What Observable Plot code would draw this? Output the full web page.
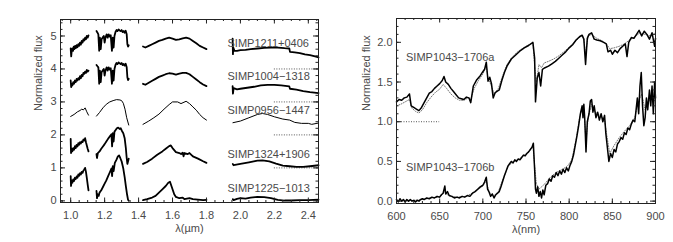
<!DOCTYPE html>
<html>
<head>
<meta charset="utf-8">
<script src="https://cdn.jsdelivr.net/npm/d3@7"></script>
<script src="https://cdn.jsdelivr.net/npm/@observablehq/plot@0.6"></script>
<style>
  html, body { margin: 0; padding: 0; background: #fff; }
  #wrap { display: flex; width: 673px; height: 242px; overflow: hidden; }
  #wrap svg { display: block; }
</style>
</head>
<body>
<div id="wrap"></div>
<script>
// ---------------- Left panel data (λ in µm, normalized flux + offset) ----------------
const leftNames = ["SIMP1211+0406", "SIMP1004−1318", "SIMP0956−1447", "SIMP1324+1906", "SIMP1225−1013"];
const leftLabelX = [1.924, 1.924, 1.924, 1.924, 1.924];
const leftLabelY = [4.77, 3.77, 2.74, 1.41, 0.37];
const zeroLevels = [1, 2, 3, 4];
const zeroLevelX = [2.2, 2.46];

const simp1211 = [
  [[1.000,4.62],[1.003,4.38],[1.006,4.55],[1.010,4.62],[1.014,4.55],[1.018,4.68],[1.022,4.60],[1.026,4.70],[1.030,4.63],[1.035,4.72],[1.040,4.66],[1.045,4.75],[1.050,4.70],[1.055,4.80],[1.060,4.74],[1.065,4.85],[1.070,4.80],[1.075,4.90],[1.080,4.86],[1.085,4.95],[1.090,4.90],[1.095,5.00],[1.100,4.95],[1.105,5.02]],
  [[1.152,5.15],[1.158,5.10],[1.163,5.05],[1.168,4.55],[1.172,4.95],[1.177,4.60],[1.182,4.90],[1.188,4.95],[1.195,5.00],[1.200,4.80],[1.205,4.95],[1.212,5.05],[1.218,4.95],[1.224,5.05],[1.230,4.98],[1.236,5.02],[1.243,4.55],[1.248,4.95],[1.253,4.65],[1.258,5.00],[1.264,5.12],[1.270,5.18],[1.276,5.15],[1.282,5.20],[1.288,5.17],[1.294,5.15],[1.300,5.18],[1.306,5.12],[1.312,5.15],[1.318,5.10],[1.324,5.16],[1.330,5.05],[1.334,4.75],[1.338,4.68],[1.342,4.72]],
  [[1.426,4.68],[1.440,4.65],[1.460,4.70],[1.480,4.75],[1.500,4.80],[1.520,4.85],[1.540,4.88],[1.560,4.92],[1.580,4.95],[1.600,4.92],[1.620,4.88],[1.640,4.90],[1.660,4.93],[1.680,4.95],[1.700,4.92],[1.720,4.85],[1.740,4.78],[1.760,4.70],[1.780,4.65],[1.800,4.60]],
  [[1.954,4.92],[1.956,4.45],[1.958,4.65],[1.965,4.55],[1.980,4.55],[2.000,4.57],[2.030,4.58],[2.060,4.60],[2.100,4.62],[2.140,4.64],[2.180,4.65],[2.220,4.65],[2.260,4.63],[2.288,4.62],[2.292,4.52],[2.320,4.50],[2.350,4.48],[2.380,4.44],[2.410,4.42],[2.440,4.38],[2.460,4.35]]
];
const simp1004 = [
  [[1.000,3.65],[1.003,3.45],[1.006,3.55],[1.010,3.50],[1.015,3.60],[1.020,3.55],[1.025,3.65],[1.030,3.60],[1.035,3.70],[1.040,3.65],[1.045,3.72],[1.050,3.68],[1.055,3.78],[1.060,3.72],[1.065,3.82],[1.070,3.78],[1.075,3.88],[1.080,3.85],[1.085,3.92],[1.090,3.88],[1.095,3.97],[1.100,3.92],[1.105,3.95]],
  [[1.152,4.12],[1.158,4.08],[1.163,4.05],[1.168,3.55],[1.172,3.95],[1.177,3.60],[1.182,3.90],[1.188,3.95],[1.195,4.00],[1.200,3.80],[1.205,3.95],[1.212,4.05],[1.218,3.95],[1.224,4.05],[1.230,3.98],[1.236,4.02],[1.243,3.55],[1.248,3.95],[1.253,3.65],[1.258,4.00],[1.264,4.12],[1.270,4.18],[1.276,4.15],[1.282,4.20],[1.288,4.17],[1.294,4.15],[1.300,4.18],[1.306,4.12],[1.312,4.15],[1.318,4.10],[1.324,4.16],[1.330,4.05],[1.334,3.75],[1.338,3.66],[1.342,3.70]],
  [[1.426,3.55],[1.440,3.52],[1.460,3.58],[1.480,3.64],[1.500,3.70],[1.520,3.76],[1.540,3.80],[1.560,3.84],[1.580,3.87],[1.600,3.86],[1.620,3.83],[1.640,3.86],[1.660,3.88],[1.680,3.88],[1.700,3.84],[1.720,3.76],[1.740,3.68],[1.760,3.60],[1.780,3.53],[1.800,3.48]],
  [[1.954,3.48],[1.956,3.25],[1.960,3.42],[1.980,3.38],[2.000,3.40],[2.040,3.43],[2.080,3.46],[2.120,3.50],[2.160,3.52],[2.200,3.52],[2.240,3.50],[2.288,3.47],[2.292,3.40],[2.330,3.37],[2.370,3.33],[2.410,3.30],[2.460,3.27]]
];
const simp0956 = [
  [[1.000,2.56],[1.020,2.62],[1.040,2.70],[1.055,2.74],[1.065,2.78],[1.075,2.76],[1.085,2.82],[1.095,2.70],[1.105,2.60]],
  [[1.152,2.57],[1.170,2.68],[1.190,2.82],[1.210,2.93],[1.230,3.00],[1.250,3.04],[1.270,3.07],[1.290,3.06],[1.300,3.04],[1.310,2.96],[1.320,2.78],[1.330,2.52],[1.342,2.30]],
  [[1.426,2.32],[1.460,2.42],[1.490,2.52],[1.520,2.63],[1.550,2.78],[1.580,2.92],[1.600,3.00],[1.630,3.00],[1.650,2.95],[1.680,3.02],[1.700,2.95],[1.720,2.85],[1.740,2.75],[1.760,2.62],[1.780,2.52],[1.800,2.45]],
  [[1.956,2.37],[2.000,2.42],[2.050,2.52],[2.100,2.62],[2.130,2.65],[2.160,2.62],[2.200,2.55],[2.250,2.48],[2.290,2.45],[2.320,2.38],[2.360,2.35],[2.400,2.35],[2.420,2.32],[2.460,2.36]]
];
const simp1324 = [
  [[1.000,1.88],[1.002,1.45],[1.006,1.58],[1.010,1.50],[1.015,1.60],[1.020,1.55],[1.025,1.66],[1.030,1.60],[1.035,1.70],[1.040,1.65],[1.045,1.75],[1.050,1.70],[1.055,1.78],[1.060,1.74],[1.065,1.80],[1.070,1.78],[1.075,1.86],[1.080,1.83],[1.085,1.90],[1.090,1.78],[1.095,1.68],[1.100,1.58],[1.105,1.50]],
  [[1.152,1.42],[1.155,1.30],[1.160,1.45],[1.170,1.50],[1.180,1.58],[1.190,1.65],[1.200,1.72],[1.210,1.80],[1.220,1.88],[1.230,1.95],[1.240,2.02],[1.244,1.65],[1.248,2.05],[1.253,1.80],[1.258,2.10],[1.265,2.15],[1.272,2.20],[1.280,2.22],[1.288,2.18],[1.295,2.20],[1.302,2.12],[1.310,2.05],[1.318,1.90],[1.325,1.60],[1.330,1.30],[1.334,1.12],[1.338,1.20],[1.342,1.28]],
  [[1.426,1.12],[1.450,1.18],[1.480,1.28],[1.510,1.40],[1.540,1.50],[1.560,1.58],[1.580,1.66],[1.590,1.68],[1.600,1.60],[1.620,1.48],[1.640,1.45],[1.650,1.42],[1.660,1.46],[1.665,1.35],[1.670,1.45],[1.690,1.42],[1.700,1.45],[1.720,1.35],[1.750,1.28],[1.780,1.20],[1.800,1.15]],
  [[1.955,1.12],[1.960,1.08],[2.000,1.12],[2.050,1.17],[2.100,1.22],[2.130,1.23],[2.170,1.20],[2.210,1.13],[2.250,1.07],[2.290,1.05],[2.330,1.03],[2.370,1.03],[2.410,1.05],[2.460,1.08]]
];
const simp1225 = [
  [[1.000,0.75],[1.002,0.45],[1.006,0.62],[1.010,0.55],[1.015,0.65],[1.020,0.60],[1.025,0.70],[1.030,0.66],[1.035,0.74],[1.040,0.70],[1.045,0.80],[1.050,0.76],[1.055,0.84],[1.060,0.80],[1.065,0.88],[1.070,0.85],[1.075,0.92],[1.080,0.95],[1.085,1.00],[1.090,0.88],[1.095,0.70],[1.100,0.50],[1.105,0.32]],
  [[1.152,0.30],[1.155,0.08],[1.160,0.20],[1.165,0.15],[1.170,0.25],[1.180,0.32],[1.190,0.42],[1.200,0.52],[1.210,0.62],[1.220,0.74],[1.230,0.86],[1.240,0.98],[1.244,0.75],[1.248,1.05],[1.253,0.90],[1.260,1.15],[1.270,1.25],[1.278,1.35],[1.285,1.38],[1.292,1.30],[1.300,1.20],[1.310,0.98],[1.318,0.72],[1.325,0.45],[1.332,0.20],[1.338,0.03],[1.342,0.00]],
  [[1.426,0.02],[1.450,0.05],[1.480,0.10],[1.500,0.15],[1.520,0.25],[1.540,0.35],[1.560,0.45],[1.575,0.55],[1.585,0.58],[1.600,0.35],[1.610,0.20],[1.620,0.12],[1.640,0.08],[1.660,0.10],[1.670,0.05],[1.700,0.08],[1.720,0.05],[1.750,0.04],[1.780,0.02],[1.800,0.03]],
  [[1.955,0.05],[1.960,0.02],[1.980,0.06],[2.000,0.08],[2.030,0.07],[2.060,0.10],[2.100,0.12],[2.140,0.11],[2.180,0.08],[2.220,0.03],[2.260,0.01],[2.300,0.01],[2.350,0.02],[2.400,0.02],[2.460,0.04]]
];
const leftSpectra = [simp1211, simp1004, simp0956, simp1324, simp1225];
const leftWidths = [1.8, 1.8, 1.0, 1.8, 1.8];

// ---------------- Right panel data (λ in nm) ----------------
const rightNames = ["SIMP1043−1706a", "SIMP1043−1706b"];
const rightLabelX = [611, 611];
const rightLabelY = [1.81, 0.42];
const rightRefLevel = [1.0];
const rightRefX = [600, 650];

const specA = [[600,1.25],[603,1.28],[606,1.27],[609,1.30],[612,1.31],[615,1.35],[617,1.20],[620,1.18],[623,1.16],[626,1.14],[629,1.18],[632,1.24],[635,1.30],[638,1.36],[641,1.38],[644,1.42],[647,1.45],[650,1.48],[653,1.52],[655,1.57],[657,1.50],[660,1.47],[663,1.42],[666,1.38],[669,1.34],[672,1.30],[675,1.29],[678,1.28],[681,1.31],[684,1.30],[686,1.24],[689,1.45],[693,1.53],[697,1.58],[700,1.63],[702,1.66],[704,1.75],[706,1.51],[708,1.56],[710,1.48],[712,1.30],[714,1.36],[716,1.38],[719,1.40],[722,1.52],[725,1.62],[728,1.70],[733,1.79],[739,1.85],[744,1.90],[748,1.93],[753,1.96],[758,2.00],[760,1.80],[761,1.25],[763,1.55],[765,1.62],[767,1.45],[769,1.66],[772,1.68],[776,1.70],[780,1.73],[784,1.76],[788,1.80],[792,1.84],[796,1.88],[800,1.93],[804,1.97],[808,2.03],[812,2.07],[815,2.09],[817,2.04],[819,1.72],[821,2.05],[823,2.10],[826,2.12],[829,2.04],[832,2.03],[836,2.02],[840,2.00],[843,1.98],[845,1.88],[848,1.90],[850,1.85],[853,1.90],[856,1.87],[859,1.92],[862,1.95],[865,1.98],[867,1.82],[869,2.00],[872,2.06],[875,2.05],[878,2.10],[881,2.15],[884,2.08],[887,2.14],[890,2.10],[893,2.04],[896,2.12],[899,1.95],[900,2.05]];
const templA = [[600,1.20],[605,1.22],[610,1.25],[615,1.28],[618,1.17],[622,1.13],[626,1.11],[630,1.15],[635,1.24],[640,1.31],[645,1.37],[650,1.41],[654,1.47],[658,1.42],[663,1.35],[668,1.30],[673,1.27],[678,1.27],[683,1.30],[686,1.28],[690,1.42],[695,1.52],[700,1.60],[704,1.70],[706,1.55],[710,1.45],[713,1.35],[718,1.42],[723,1.58],[728,1.72],[733,1.80],[740,1.88],[747,1.93],[753,1.97],[758,1.99],[760,1.70],[762,1.50],[765,1.72],[768,1.68],[771,1.74],[776,1.76],[782,1.79],[788,1.83],[795,1.89],[802,1.96],[808,2.02],[814,2.08],[817,2.05],[819,1.85],[822,2.08],[826,2.10],[832,2.05],[838,2.02],[843,1.98],[847,1.92],[852,1.93],[858,1.95],[864,1.98],[870,2.03],[876,2.07],[882,2.12],[888,2.10],[894,2.08],[900,2.12]];
const specB = [[600,0.02],[602,-0.01],[604,0.03],[606,0.00],[608,0.02],[610,-0.01],[612,0.02],[614,0.00],[616,0.02],[618,0.00],[620,0.01],[622,-0.01],[624,0.01],[626,0.00],[628,0.02],[630,0.03],[632,0.02],[635,0.04],[638,0.03],[641,0.05],[644,0.04],[647,0.06],[650,0.05],[652,0.08],[654,0.10],[656,0.19],[657,0.09],[659,0.12],[661,0.07],[664,0.06],[667,0.04],[670,0.05],[673,0.04],[676,0.06],[679,0.05],[682,0.07],[685,0.06],[688,0.10],[691,0.12],[694,0.15],[697,0.18],[700,0.20],[702,0.24],[704,0.30],[705.5,0.15],[707,0.12],[709,0.06],[711,0.09],[713,0.04],[715,0.08],[717,0.10],[719,0.12],[721,0.18],[723,0.25],[725,0.32],[727,0.38],[729,0.44],[731,0.47],[733,0.50],[735,0.48],[737,0.52],[739,0.50],[741,0.53],[743,0.52],[745,0.55],[747,0.58],[749,0.57],[751,0.60],[753,0.62],[755,0.65],[757,0.68],[758.5,0.73],[760,0.40],[761,0.15],[762,0.10],[763.5,0.18],[765,0.06],[766.5,0.12],[768,0.04],[769.5,0.14],[771,0.08],[773,0.20],[775,0.22],[777,0.28],[779,0.25],[781,0.32],[783,0.30],[785,0.36],[787,0.32],[789,0.38],[791,0.34],[793,0.40],[795,0.36],[797,0.42],[799,0.38],[801,0.45],[803,0.50],[805,0.58],[807,0.70],[809,0.82],[811,0.95],[813,1.10],[815,1.20],[816,1.05],[817,1.22],[818,1.05],[819.5,0.62],[821,1.00],[823,1.10],[824.5,1.26],[826,1.28],[827.5,1.12],[829,1.20],[831,1.05],[833,1.12],[835,1.02],[837,1.10],[839,1.00],[841,1.08],[842.5,0.85],[844,0.70],[846,0.50],[848,0.60],[850,0.55],[852,0.65],[854,0.62],[856,0.72],[858,0.75],[860,0.80],[862,0.78],[864,0.86],[866,0.84],[868,0.92],[870,0.90],[872,0.97],[874,1.02],[876,1.00],[877.5,1.15],[879,1.30],[880.5,1.10],[882,1.45],[883.5,1.62],[885,1.20],[886.5,0.95],[888,1.05],[889.5,1.30],[891,1.15],[893,1.40],[894.5,1.20],[896,1.45],[897.5,1.10],[899,1.50],[900,1.30]];
const templB = [[600,0.00],[610,0.00],[620,0.01],[630,0.02],[640,0.04],[650,0.05],[656,0.12],[660,0.07],[670,0.05],[680,0.06],[690,0.11],[700,0.19],[704,0.26],[707,0.12],[712,0.06],[718,0.12],[724,0.30],[730,0.45],[736,0.50],[742,0.53],[748,0.58],[754,0.63],[758,0.70],[760,0.45],[762,0.22],[765,0.15],[768,0.18],[772,0.22],[778,0.30],[785,0.36],[792,0.40],[798,0.44],[803,0.52],[808,0.78],[812,1.05],[815,1.18],[817,1.15],[819.5,0.75],[822,1.05],[826,1.22],[830,1.12],[836,1.08],[841,1.02],[844,0.80],[847,0.60],[852,0.70],[858,0.80],[864,0.88],[870,0.95],[876,1.05],[880,1.25],[884,1.35],[888,1.15],[892,1.25],[896,1.30],[900,1.25]];

// ---------------- Axis ticks ----------------
const leftXTicks = [1.0, 1.2, 1.4, 1.6, 1.8, 2.0, 2.2, 2.4];
const leftYTicks = [0, 1, 2, 3, 4, 5];
const rightXTicks = [600, 650, 700, 750, 800, 850, 900];
const rightYTicks = [0.0, 0.5, 1.0, 1.5, 2.0];

// ---------------- Rendering ----------------
const FONT = "'Liberation Sans', Arial, Helvetica, sans-serif";
const INK = "#222";
const TXT = "#4a4a4a";
const H = 242;

function toRows(segments, key) {
  const rows = [];
  segments.forEach((seg, i) => seg.forEach(([x, y]) => rows.push({x, y, z: key + "-" + i})));
  return rows;
}

function panel(cfg) {
  const innerW = cfg.width - cfg.ml - cfg.mr;
  const innerH = H - cfg.mt - cfg.mb;
  const tx = (vals, len) => [
    Plot.tickX(vals, {x: d => d, stroke: INK, insetTop: innerH - len}),
    Plot.tickX(vals, {x: d => d, stroke: INK, insetBottom: innerH - len})
  ];
  const ty = (vals, len) => [
    Plot.tickY(vals, {y: d => d, stroke: INK, insetRight: innerW - len}),
    Plot.tickY(vals, {y: d => d, stroke: INK, insetLeft: innerW - len})
  ];
  return Plot.plot({
    width: cfg.width, height: H,
    marginLeft: cfg.ml, marginRight: cfg.mr, marginTop: cfg.mt, marginBottom: cfg.mb,
    x: {domain: cfg.xDomain, axis: null, label: null},
    y: {domain: cfg.yDomain, axis: null, label: null},
    style: {fontFamily: FONT, fontSize: "11px", background: "white", color: TXT, overflow: "visible"},
    marks: [
      ...cfg.marks,
      ...tx(cfg.xMinor, 2), ...tx(cfg.xMajor, 4.5),
      ...ty(cfg.yMinor, 2.5), ...ty(cfg.yMajor, 5),
      Plot.frame({stroke: INK, strokeWidth: 1}),
      Plot.axisX(cfg.xMajor, {anchor: "bottom", tickSize: 0, tickPadding: 9, tickFormat: cfg.xFormat, fontSize: 11, fill: TXT, label: null}),
      Plot.axisY(cfg.yMajor, {anchor: "left", tickSize: 0, tickPadding: 4, tickFormat: cfg.yFormat, fontSize: 11, fill: TXT, label: null}),
      Plot.text([cfg.xLabel], {frameAnchor: "bottom", dy: 29, fontSize: 11, fill: TXT}),
      Plot.text(["Normalized flux"], {frameAnchor: "left", dx: cfg.yLabelDx, rotate: -90, fontSize: 11, fill: TXT})
    ]
  });
}

// Left panel
const leftRows = leftSpectra.map((s, i) => toRows(s, "L" + i));
const leftMarks = [
  Plot.ruleY(zeroLevels, {y: d => d, x1: zeroLevelX[0], x2: zeroLevelX[1], stroke: "#555", strokeDasharray: "1,1.5"}),
  ...leftRows.map((rows, i) => Plot.line(rows, {x: "x", y: "y", z: "z", stroke: "black", strokeWidth: leftWidths[i]})),
  Plot.text(leftNames, {x: (d, i) => leftLabelX[i], y: (d, i) => leftLabelY[i], text: d => d, textAnchor: "start", fontSize: 11, fill: TXT})
];
const leftPlot = panel({
  width: 336, ml: 60, mr: 18, mt: 19, mb: 40,
  xDomain: [0.94, 2.46], yDomain: [-0.05, 5.5],
  xMajor: leftXTicks, xMinor: d3.range(19, 50).map(i => i * 0.05),
  yMajor: leftYTicks, yMinor: d3.range(0, 28).map(i => i * 0.2),
  xFormat: d3.format(".1f"), yFormat: d3.format("d"),
  xLabel: "λ(µm)", yLabelDx: -22, marks: leftMarks
});

// Right panel
const toPts = arr => arr.map(([x, y]) => ({x, y}));
const rightMarks = [
  Plot.ruleY(rightRefLevel, {y: d => d, x1: rightRefX[0], x2: rightRefX[1], stroke: "#555", strokeDasharray: "1,1.5"}),
  Plot.line(toPts(templA), {x: "x", y: "y", stroke: "#777", strokeWidth: 1, strokeDasharray: "1,1.5"}),
  Plot.line(toPts(templB), {x: "x", y: "y", stroke: "#777", strokeWidth: 1, strokeDasharray: "1,1.5"}),
  Plot.line(toPts(specA), {x: "x", y: "y", stroke: "black", strokeWidth: 1.5}),
  Plot.line(toPts(specB), {x: "x", y: "y", stroke: "black", strokeWidth: 1.5}),
  Plot.text(rightNames, {x: (d, i) => rightLabelX[i], y: (d, i) => rightLabelY[i], text: d => d, textAnchor: "start", fontSize: 11, fill: TXT})
];
const rightPlot = panel({
  width: 337, ml: 60, mr: 18, mt: 18, mb: 39,
  xDomain: [600, 900], yDomain: [-0.03, 2.3],
  xMajor: rightXTicks, xMinor: d3.range(600, 901, 10),
  yMajor: rightYTicks, yMinor: d3.range(0, 23).map(i => i * 0.1),
  xFormat: d3.format("d"), yFormat: d3.format(".1f"),
  xLabel: "λ(nm)", yLabelDx: -30, marks: rightMarks
});

const wrap = document.getElementById("wrap");
wrap.appendChild(leftPlot);
wrap.appendChild(rightPlot);
</script>
</body>
</html>
